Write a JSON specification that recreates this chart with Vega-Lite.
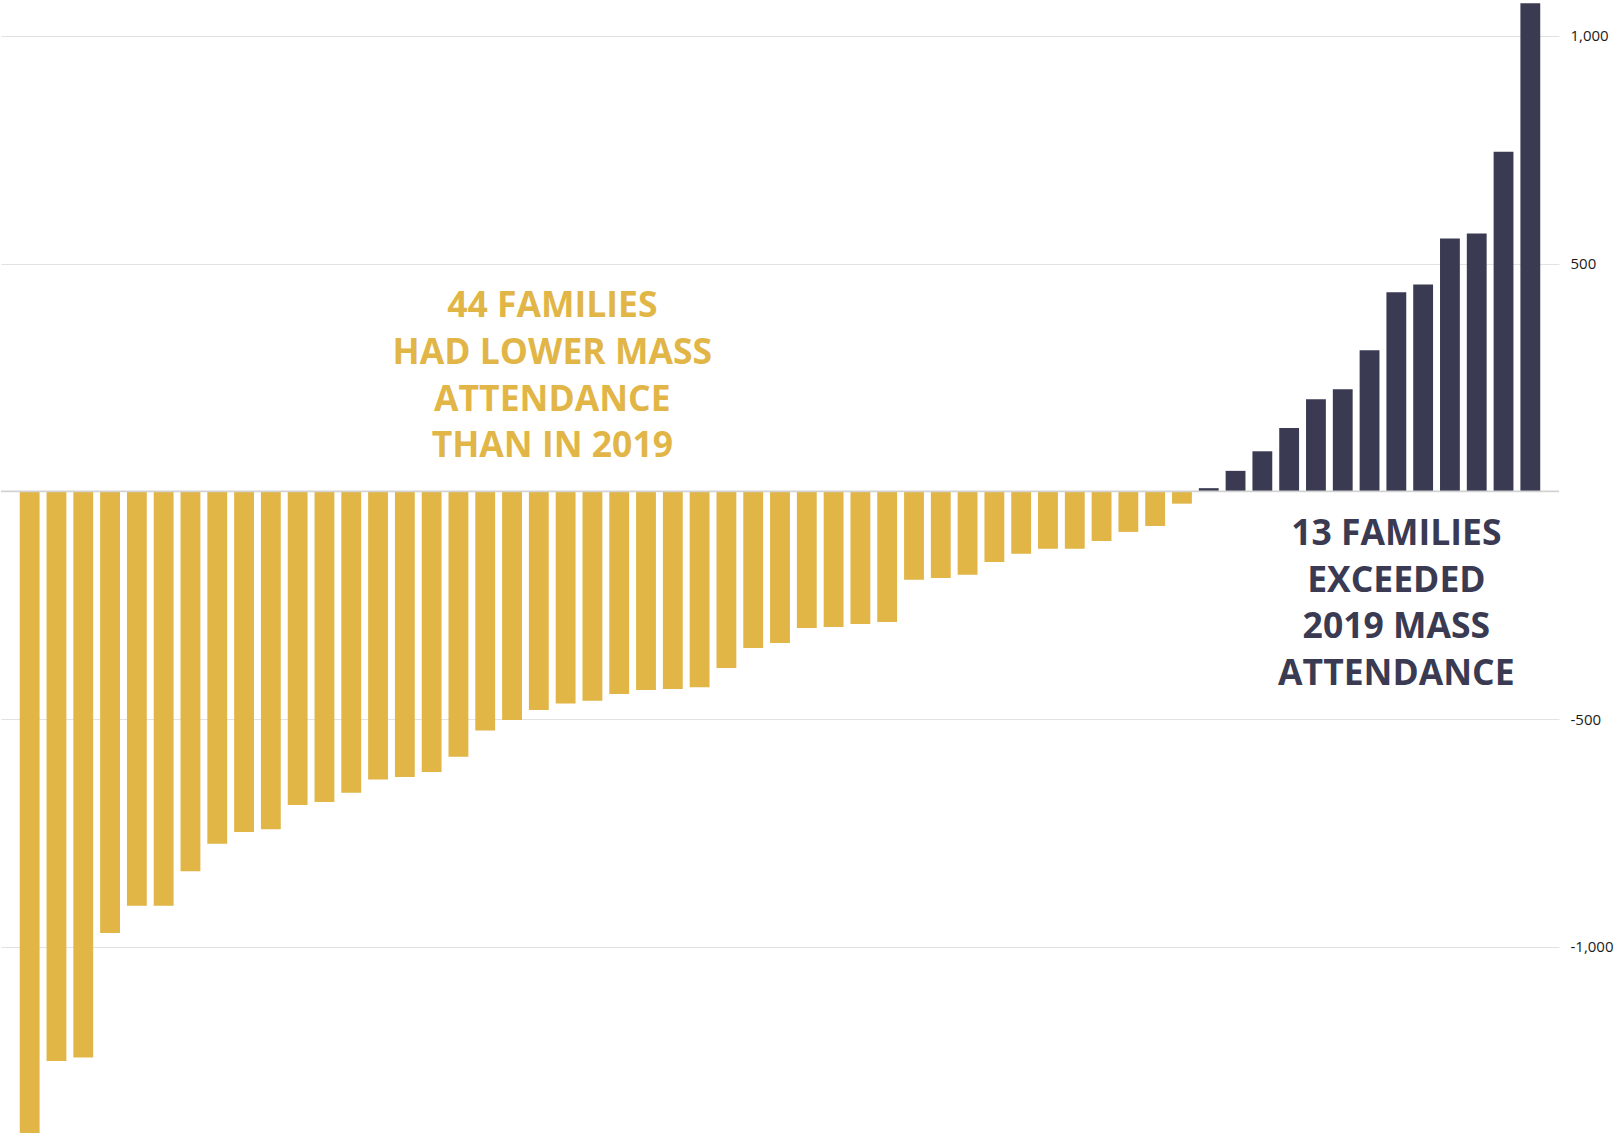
{
  "$schema": "https://vega.github.io/schema/vega-lite/v6.json",
  "width": 1558,
  "height": 1133,
  "autosize": {"type": "none"},
  "padding": {"left": 1, "top": 0, "right": 56, "bottom": 0},
  "background": "white",
  "config": {"view": {"stroke": null}},
  "datasets": {
    "families": [
      {"rank": 1, "change": -1409}, {"rank": 2, "change": -1251}, {"rank": 3, "change": -1243},
      {"rank": 4, "change": -970}, {"rank": 5, "change": -910}, {"rank": 6, "change": -910},
      {"rank": 7, "change": -834}, {"rank": 8, "change": -774}, {"rank": 9, "change": -748},
      {"rank": 10, "change": -742}, {"rank": 11, "change": -689}, {"rank": 12, "change": -682},
      {"rank": 13, "change": -662}, {"rank": 14, "change": -633}, {"rank": 15, "change": -627},
      {"rank": 16, "change": -616}, {"rank": 17, "change": -583}, {"rank": 18, "change": -525},
      {"rank": 19, "change": -502}, {"rank": 20, "change": -480}, {"rank": 21, "change": -466},
      {"rank": 22, "change": -460}, {"rank": 23, "change": -445}, {"rank": 24, "change": -436},
      {"rank": 25, "change": -434}, {"rank": 26, "change": -430}, {"rank": 27, "change": -388},
      {"rank": 28, "change": -344}, {"rank": 29, "change": -333}, {"rank": 30, "change": -300},
      {"rank": 31, "change": -298}, {"rank": 32, "change": -291}, {"rank": 33, "change": -287},
      {"rank": 34, "change": -194}, {"rank": 35, "change": -190}, {"rank": 36, "change": -183},
      {"rank": 37, "change": -155}, {"rank": 38, "change": -137}, {"rank": 39, "change": -126},
      {"rank": 40, "change": -126}, {"rank": 41, "change": -109}, {"rank": 42, "change": -89},
      {"rank": 43, "change": -76}, {"rank": 44, "change": -27}, {"rank": 45, "change": 7},
      {"rank": 46, "change": 45}, {"rank": 47, "change": 88}, {"rank": 48, "change": 139},
      {"rank": 49, "change": 202}, {"rank": 50, "change": 224}, {"rank": 51, "change": 310},
      {"rank": 52, "change": 437}, {"rank": 53, "change": 454}, {"rank": 54, "change": 555},
      {"rank": 55, "change": 566}, {"rank": 56, "change": 746}, {"rank": 57, "change": 1072}
    ],
    "lowerNote": [
      {"rank": 20, "change": 382, "label": "44 FAMILIES\nHAD LOWER MASS\nATTENDANCE\nTHAN IN 2019"}
    ],
    "higherNote": [
      {"rank": 52, "change": -118, "label": "13 FAMILIES\nEXCEEDED\n2019 MASS\nATTENDANCE"}
    ],
    "baseline": [
      {"change": 0}
    ]
  },
  "layer": [
    {
      "data": {"name": "families"},
      "mark": {"type": "bar"},
      "encoding": {
        "x": {
          "field": "rank",
          "type": "ordinal",
          "scale": {"type": "band", "paddingInner": 0.26, "paddingOuter": 0.7},
          "axis": null
        },
        "y": {
          "field": "change",
          "type": "quantitative",
          "scale": {"domain": [-1409, 1079], "nice": false, "zero": false},
          "axis": {
            "orient": "right",
            "values": [-1000, -500, 500, 1000],
            "labelExpr": "(datum.value < 0 ? '-' : '') + format(abs(datum.value), ',')",
            "title": null,
            "domain": false,
            "ticks": false,
            "grid": true,
            "gridColor": "#e2e2e2",
            "gridWidth": 1,
            "labelPadding": 11,
            "labelFont": "Open Sans",
            "labelFontSize": 15,
            "labelColor": "#1a1a1a",
            "labelAlign": "left"
          }
        },
        "color": {
          "condition": {"test": "datum.change > 0", "value": "#3A3A52"},
          "value": "#E1B546"
        }
      }
    },
    {
      "data": {"name": "baseline"},
      "mark": {"type": "rule", "color": "#d2d2d2", "strokeWidth": 1.6},
      "encoding": {"y": {"field": "change", "type": "quantitative"}}
    },
    {
      "data": {"name": "lowerNote"},
      "mark": {
        "type": "text",
        "font": "Open Sans",
        "fontWeight": "bold",
        "fontSize": 35.5,
        "align": "center",
        "baseline": "alphabetic",
        "lineBreak": "\n",
        "lineHeight": 46.7,
        "color": "#E1B546"
      },
      "encoding": {
        "x": {"field": "rank", "type": "ordinal", "bandPosition": 1.18},
        "y": {"field": "change", "type": "quantitative"},
        "text": {"field": "label"}
      }
    },
    {
      "data": {"name": "higherNote"},
      "mark": {
        "type": "text",
        "font": "Open Sans",
        "fontWeight": "bold",
        "fontSize": 35.5,
        "align": "center",
        "baseline": "alphabetic",
        "lineBreak": "\n",
        "lineHeight": 46.7,
        "color": "#3A3A52"
      },
      "encoding": {
        "x": {"field": "rank", "type": "ordinal", "bandPosition": 0.5},
        "y": {"field": "change", "type": "quantitative"},
        "text": {"field": "label"}
      }
    }
  ]
}
